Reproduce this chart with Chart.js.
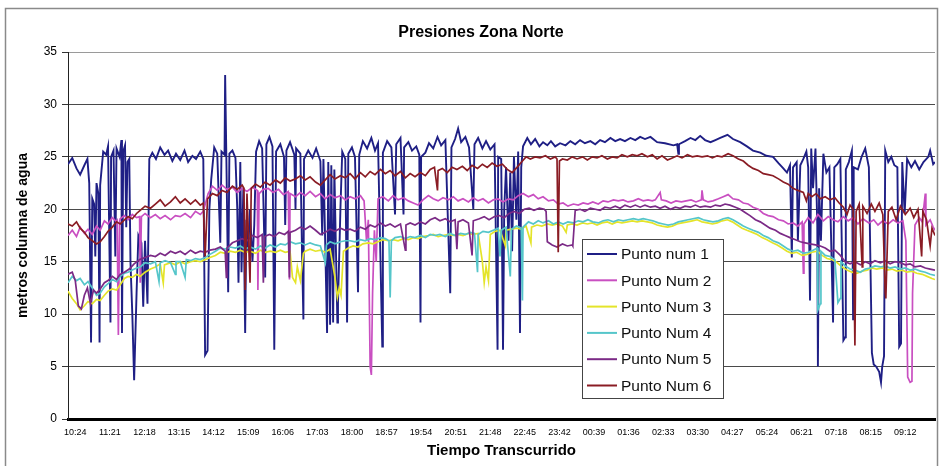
<!DOCTYPE html>
<html>
<head>
<meta charset="utf-8">
<title>Presiones Zona Norte</title>
<script src="https://cdn.jsdelivr.net/npm/chart.js@4.4.1/dist/chart.umd.min.js"></script>
<style>
  html, body { margin: 0; padding: 0; background: #fff; }
  #wrap { width: 943px; height: 466px; }
</style>
</head>
<body>
<div id="wrap"><canvas id="presChart" width="943" height="466"></canvas></div>
<script>
// minutes since 10:24, metros columna de agua
const tickLabels = ['10:24','11:21','12:18','13:15','14:12','15:09','16:06','17:03','18:00','18:57','19:54','20:51','21:48','22:45','23:42','00:39','01:36','02:33','03:30','04:27','05:24','06:21','07:18','08:15','09:12'];
const seriesNames = ['Punto num 1', 'Punto Num 2', 'Punto Num 3', 'Punto Num 4', 'Punto Num 5', 'Punto Num 6'];

const punto1 = [[-12,24.3],[-5,24.9],[2,23.9],[8,23.3],[15,24.2],[20,24.8],[23,22.5],[26,7.3],[28,21],[31,20.5],[33,15.5],[35,22.5],[38,21.5],[40,7.3],[41,22.3],[46,25.5],[51,25.2],[54,26],[58,9.2],[59,25],[63,25.6],[66,15.5],[68,25.8],[73,25],[76,26.6],[77,8.2],[79,25.5],[82,26.1],[84,18.3],[86,24.5],[89,24.8],[91,14.9],[94,10],[97,3.7],[101,12],[104,17.5],[109,16.8],[112,10.7],[115,17],[119,11],[122,24.8],[127,25.4],[133,24.8],[140,25.9],[147,25.2],[153,25.6],[160,24.6],[166,25.3],[173,24.7],[180,25.6],[186,24.5],[193,25.1],[199,24.8],[206,25.5],[211,24.8],[214,6.1],[218,6.5],[221,20],[224,22.8],[229,25.9],[234,25.3],[239,16.8],[241,25.5],[246,25.2],[247,32.8],[249,25],[252,12.1],[254,25.3],[259,25.6],[264,24.9],[267,20],[269,13],[272,24.5],[274,14],[277,22],[280,8.2],[282,19],[285,16],[288,20],[292,15],[295,18.5],[298,25.5],[303,26.5],[308,25.8],[313,13.5],[315,26.2],[320,26.9],[325,26],[328,6.6],[331,25.5],[338,26.2],[344,25],[346,18.5],[348,25.6],[354,26.4],[361,25.2],[363,20],[364,25.8],[371,25.3],[374,15],[376,9.5],[377,24.8],[384,25.6],[391,24.9],[397,25.8],[404,24.6],[407,17.5],[409,24.8],[415,8.2],[417,24.5],[420,9],[422,24.2],[425,9.2],[427,23.8],[432,9.2],[433,11],[437,20],[440,25.5],[445,24.8],[448,9.2],[450,25.3],[456,25.9],[461,25],[466,12.1],[468,25.2],[474,26.5],[481,25.8],[488,26.8],[494,25.6],[499,26.3],[506,6.9],[507,25.4],[514,26.5],[521,25.9],[527,19.5],[529,26.2],[536,26.8],[541,19.5],[542,25.9],[549,26.4],[555,25.6],[562,26],[567,25.2],[569,9.2],[570,25],[577,25.4],[583,26.3],[590,25.8],[597,26.9],[603,26.1],[610,26.6],[618,12],[620,25.9],[626,26.7],[631,27.7],[636,26.4],[643,26.9],[649,25.9],[656,20],[658,26.2],[664,26.8],[671,25.8],[677,26.5],[684,25.7],[691,26.2],[696,6.6],[697,25],[702,24.8],[705,6.6],[707,20],[710,24],[714,17],[717,23.5],[720,16],[723,25],[727,19],[730,25.5],[733,8.2],[735,24],[738,26],[745,26.8],[751,26.2],[758,26.7],[765,26],[771,26.4],[778,26.1],[784,26.5],[791,26],[799,26.3],[808,26.1],[816,26.5],[824,26.2],[832,26.6],[840,26.3],[849,26.5],[857,26.2],[865,26.6],[873,26.4],[882,26.8],[890,26.5],[898,26.7],[906,26.5],[915,26.8],[923,26.6],[931,26.9],[939,26.7],[948,26.9],[959,26.4],[972,26.3],[986,26.1],[992,26.2],[994,25.3],[995,26.2],[1005,26.5],[1014,26.8],[1022,26.6],[1030,27],[1038,26.6],[1047,26.4],[1055,26.6],[1063,26.8],[1075,27.1],[1084,26.7],[1096,26.4],[1107,26],[1117,25.6],[1129,25.4],[1139,25.1],[1150,25],[1159,24.4],[1167,23.9],[1173,23.5],[1178,24.2],[1181,15.4],[1183,24],[1189,24.5],[1191,17],[1195,24.2],[1200,24.8],[1205,25.5],[1208,24],[1211,11.3],[1213,25.8],[1216,22],[1220,25.8],[1223,18.5],[1224,5],[1226,22],[1229,17],[1233,25.3],[1238,23.5],[1243,24],[1249,9.2],[1251,24],[1256,24.3],[1261,24.8],[1266,7.5],[1269,7.8],[1270,23.8],[1275,24.5],[1280,25.6],[1282,9.5],[1283,24],[1290,23.8],[1296,25],[1302,25.8],[1308,24],[1313,6.3],[1316,5.2],[1320,5],[1325,4.5],[1328,3.5],[1330,5],[1333,6],[1335,25.6],[1340,24.5],[1345,25],[1350,24.2],[1355,24],[1358,6.9],[1361,7.2],[1363,24.5],[1367,19.6],[1371,24.8],[1378,24],[1384,24.6],[1391,23.8],[1398,24.5],[1406,25],[1409,25.6],[1414,24.3],[1417,24.5]];

const punto2 = [[-12,17.5],[-5,18],[2,17.4],[8,18.3],[15,17.7],[21,18.1],[28,17.6],[35,18.4],[41,18],[48,18.9],[54,18.6],[61,19.2],[68,18.8],[69,18.9],[71,8],[73,18.8],[74,19.1],[81,19.4],[87,19],[94,19.5],[101,19.2],[106,19.3],[107,13],[109,19.3],[115,19.6],[124,19.2],[132,19.5],[140,19.1],[148,19.4],[157,19],[165,19.4],[173,19.3],[181,19.6],[190,19.2],[198,19.8],[206,19.5],[211,19.8],[219,21.5],[226,22.2],[234,21.8],[242,22.3],[250,21.9],[259,22.1],[267,21.6],[275,22],[283,21.7],[292,22.1],[300,21.8],[301,12.3],[303,21.5],[310,21.9],[318,22],[326,21.6],[335,21.9],[343,21.4],[351,21.7],[353,13.3],[354,21.5],[363,21.2],[371,21.6],[379,21.3],[387,21.7],[396,21.2],[404,21.5],[412,21],[420,21.4],[428,21.1],[437,21.3],[445,20.9],[453,21.2],[461,21],[470,21.3],[476,20.8],[480,17],[483,19],[486,5],[488,4.2],[490,12],[493,18],[496,15],[499,21],[507,21.2],[516,20.8],[524,21.3],[532,20.9],[541,21.1],[549,20.8],[557,20.6],[565,20.4],[573,20.9],[582,21.3],[590,21],[598,20.8],[606,21.1],[615,20.9],[623,21.2],[631,20.8],[639,21],[648,20.7],[656,21.1],[664,20.8],[672,21],[681,20.6],[689,20.9],[697,21],[705,20.7],[714,21],[722,20.9],[730,21.3],[738,21.5],[747,21.2],[755,21.4],[763,21],[771,21.2],[780,20.8],[788,20.9],[796,20.5],[804,20.6],[812,20.3],[821,20.5],[829,20.4],[837,20.6],[845,20.5],[853,20.7],[862,20.5],[870,20.8],[878,20.7],[887,20.9],[895,20.8],[903,20.9],[911,20.7],[920,20.8],[928,21],[936,20.8],[944,20.9],[951,20.8],[956,20.9],[964,21.6],[966,20.9],[974,20.8],[982,20.6],[990,20.8],[999,20.7],[1007,20.8],[1015,20.9],[1023,20.7],[1032,20.9],[1033,21.8],[1035,20.9],[1043,20.7],[1051,20.8],[1060,21],[1068,21.2],[1076,21.4],[1084,21],[1093,20.9],[1101,20.6],[1109,20.5],[1117,20.2],[1126,20],[1134,19.6],[1142,19.4],[1150,19.3],[1159,19],[1167,18.9],[1175,18.6],[1183,18.7],[1191,18.4],[1198,18.8],[1200,13.9],[1201,18.6],[1208,19.2],[1216,18.7],[1224,19.5],[1233,18.9],[1241,19.3],[1249,19],[1257,18.8],[1266,19.3],[1274,18.9],[1282,19.2],[1290,18.6],[1298,19.1],[1308,18.7],[1316,19],[1323,18.5],[1331,18.9],[1340,18.6],[1348,19],[1356,18.7],[1364,18.9],[1369,17],[1372,4],[1376,3.5],[1379,3.6],[1380,12],[1384,18.5],[1391,19.2],[1396,18.8],[1401,21.5],[1402,18.5],[1409,19],[1414,18.3],[1417,18]];

const punto3 = [[-12,12.2],[-5,11.5],[2,11],[8,10.4],[15,10.8],[21,11.2],[28,11],[35,11.4],[41,11.3],[48,11.8],[54,12.2],[61,12.4],[68,12.3],[74,12.8],[81,13.4],[87,13.6],[94,13.5],[101,13.8],[107,13.6],[115,14],[124,14.3],[132,14.5],[140,14.8],[145,13],[147,14.7],[157,14.9],[165,14.7],[173,15],[181,14.8],[190,15],[198,15.1],[206,15],[214,15.2],[222,15.4],[231,15.6],[239,15.9],[247,15.8],[255,16],[264,15.9],[272,16.1],[280,15.9],[288,16],[297,15.8],[305,16.1],[313,15.9],[321,16],[330,15.9],[338,16.1],[346,15.9],[354,16],[358,13.5],[363,13],[366,14.5],[371,13.2],[376,15.8],[379,16],[387,16.2],[396,16],[404,16.1],[412,15.9],[420,16.2],[428,13.5],[432,11.6],[435,12.5],[438,11.8],[442,16],[450,16.3],[458,16.5],[466,16.4],[474,16.7],[483,16.8],[491,16.7],[499,16.9],[507,17.1],[516,17],[524,17.1],[532,17],[541,17.2],[549,17.1],[557,17.3],[565,17.2],[573,17.4],[582,17.5],[590,17.6],[598,17.4],[606,17.5],[615,17.6],[623,17.5],[631,17.6],[639,17.5],[648,17.7],[656,17.6],[664,17.7],[671,15],[674,13],[677,14.5],[681,13.2],[684,17.6],[692,17.9],[700,18],[709,16.5],[710,18],[719,18.1],[727,18.2],[735,18.1],[743,18.4],[751,16.8],[752,18.3],[761,18.5],[769,18.4],[778,18.6],[786,18.5],[794,18.6],[803,18.4],[809,17.8],[811,18.5],[819,18.6],[827,18.5],[836,18.7],[844,18.6],[852,18.7],[860,18.5],[868,18.7],[877,18.8],[885,18.6],[893,18.8],[901,18.7],[910,18.8],[918,18.9],[926,18.8],[934,18.9],[943,18.8],[951,18.7],[959,18.5],[967,18.4],[976,18.3],[984,18.4],[992,18.6],[1000,18.7],[1009,18.8],[1017,18.9],[1025,19],[1033,18.8],[1042,18.7],[1050,18.6],[1058,18.7],[1066,18.9],[1075,19],[1083,18.8],[1091,18.5],[1099,18.2],[1107,18],[1116,17.8],[1124,17.6],[1132,17.3],[1140,17.1],[1149,16.8],[1157,16.6],[1165,16.3],[1173,16],[1181,15.8],[1189,15.9],[1198,15.6],[1206,15.7],[1214,15.9],[1223,16],[1231,15.6],[1239,15.3],[1247,15.2],[1256,14.9],[1264,14.5],[1272,14.2],[1280,14],[1288,13.9],[1297,14.1],[1305,14.2],[1313,14.4],[1321,14.3],[1330,14.4],[1338,14.2],[1346,14.3],[1354,14.1],[1363,14.2],[1371,14],[1379,14.1],[1387,13.9],[1396,13.8],[1404,13.6],[1412,13.4],[1417,13.3]];

const punto4 = [[-12,13],[-5,13.6],[2,13.2],[8,13.4],[15,12.8],[21,13.1],[28,12.5],[35,11.8],[41,12],[48,12.6],[54,12.9],[61,13.3],[68,13.1],[74,13.6],[81,13.9],[87,14],[94,14.2],[101,14.4],[107,14.5],[115,14.9],[124,14.8],[132,15],[138,13.1],[140,14.9],[148,15.1],[157,14.9],[165,13.8],[166,15],[173,15],[181,13.5],[183,15.2],[190,15.1],[198,15.3],[206,15.2],[214,15.4],[222,15.7],[231,16],[239,16.3],[247,16.2],[255,16.4],[264,16.3],[272,16.5],[280,16.2],[288,16.4],[297,16.2],[305,16.5],[313,16.3],[321,16.6],[330,16.4],[338,16.7],[346,16.6],[354,16.9],[363,16.7],[371,16.8],[379,16.6],[387,16.8],[396,16.6],[404,16.5],[412,14.9],[414,16.6],[420,16.9],[428,16.7],[437,16.9],[445,17],[453,17],[461,16.9],[470,17.1],[478,17],[486,17.2],[494,17.1],[503,17.3],[511,17.2],[517,17],[519,11.6],[521,17],[527,17.3],[536,17.4],[544,17.2],[552,17.4],[560,17.3],[569,17.5],[577,17.3],[585,17.6],[593,17.5],[601,17.6],[610,17.4],[618,17.7],[626,17.5],[635,17.7],[643,17.6],[651,17.8],[658,17.7],[663,14],[664,17.6],[672,17.9],[681,17.8],[689,18],[697,18.2],[700,15.5],[702,18],[710,18.3],[717,13.6],[719,18.1],[727,18.4],[735,18.2],[737,11.3],[738,18.3],[747,18.8],[755,18.6],[763,18.9],[771,18.7],[780,18.9],[788,18.6],[796,18.8],[804,18.6],[812,18.8],[821,18.7],[829,18.9],[837,18.8],[845,19],[853,18.8],[862,18.7],[870,18.9],[878,19],[887,18.8],[895,19],[903,18.9],[911,19],[920,19.1],[928,19],[936,19.1],[944,19],[952,18.9],[961,18.7],[969,18.6],[977,18.5],[986,18.6],[994,18.8],[1002,18.9],[1010,19],[1018,19.1],[1027,19.2],[1035,19],[1043,18.9],[1051,18.8],[1060,18.9],[1068,19.1],[1076,19.2],[1084,19],[1093,18.7],[1101,18.4],[1109,18.2],[1117,18],[1126,17.8],[1134,17.5],[1142,17.3],[1150,17],[1159,16.8],[1167,16.5],[1175,16.2],[1183,16],[1191,16.1],[1200,15.8],[1208,15.9],[1216,16.1],[1223,16.3],[1224,10.4],[1228,11],[1229,16],[1236,15.6],[1244,15.5],[1252,15.2],[1257,11.1],[1261,11.5],[1262,15],[1269,14.6],[1277,14.3],[1285,14.2],[1294,14],[1302,14.3],[1310,14.4],[1318,14.6],[1327,14.5],[1335,14.6],[1343,14.4],[1351,14.5],[1360,14.3],[1368,14.4],[1376,14.2],[1384,14.3],[1393,14.1],[1401,14],[1409,13.8],[1417,13.7]];

const punto5 = [[-12,13.8],[-5,14],[0,13.2],[5,10.8],[10,10.5],[15,11.8],[20,12.5],[25,11],[30,12.3],[35,12],[41,12.4],[48,13],[54,13.2],[61,13.6],[68,13.3],[74,13.8],[81,14],[89,14.3],[97,14.8],[106,15.2],[115,15.4],[124,15.6],[132,15.5],[140,15.8],[148,15.6],[157,16],[165,15.8],[173,16],[181,15.7],[190,16.1],[198,15.8],[206,16],[214,15.9],[222,16.1],[231,16.2],[239,16.4],[247,16],[249,13.5],[250,16.3],[259,16.8],[267,17],[275,17.2],[283,17],[292,17.5],[300,17.3],[308,17.6],[310,13],[312,17.4],[320,17.6],[328,17.4],[336,17.8],[345,17.6],[351,17.9],[353,13.5],[354,17.8],[363,18],[371,18.3],[379,18.1],[387,18.4],[396,18],[404,17.6],[412,17.8],[420,18.1],[428,17.9],[437,18.2],[445,18],[453,18.1],[461,17.9],[470,18.3],[478,18.1],[486,18.5],[494,18.3],[503,18.7],[511,18.4],[519,18.6],[527,18.3],[536,18.6],[544,16.1],[545,18.5],[552,18.7],[560,18.5],[569,18.8],[577,18.6],[585,19],[593,19.2],[601,18.9],[610,19.1],[618,18.8],[626,19],[629,16.2],[631,18.8],[639,19],[648,18.7],[654,15.6],[656,18.9],[666,19.1],[674,19.3],[682,19],[691,19.3],[699,19.4],[707,19.2],[715,19.6],[723,19.8],[732,19.6],[740,20],[748,20.1],[756,19.9],[765,20.1],[773,20],[776,19.8],[778,16.9],[786,16.6],[794,16.4],[803,16.7],[811,16.5],[819,16.6],[820,16.5],[824,19.9],[832,20],[840,19.8],[849,20.1],[857,20],[865,19.9],[873,20.2],[882,20.1],[890,20.3],[898,20.1],[906,20.4],[915,20.2],[923,20.4],[931,20.2],[939,20.4],[948,20.2],[956,20.3],[964,20.1],[972,20.3],[981,20],[989,20.2],[997,20.1],[1005,20.3],[1014,20.2],[1022,20.4],[1030,20.2],[1038,20.3],[1047,20.2],[1055,20.4],[1063,20.3],[1071,20.5],[1079,20.4],[1088,20.2],[1096,20],[1104,19.7],[1112,19.4],[1121,19],[1129,18.8],[1137,18.5],[1145,18.2],[1154,18],[1162,17.7],[1170,17.5],[1178,17.3],[1187,17.1],[1195,16.9],[1203,16.8],[1211,16.7],[1220,16.6],[1228,16.5],[1236,16.3],[1244,16],[1252,16.1],[1261,15.6],[1269,15],[1277,14.8],[1285,15],[1294,14.7],[1302,15],[1310,14.8],[1318,15.1],[1327,14.9],[1335,15.1],[1343,14.8],[1351,15],[1360,14.9],[1368,14.7],[1376,14.8],[1384,14.5],[1393,14.6],[1401,14.4],[1409,14.3],[1417,14.2]];

const punto6 = [[-12,18.6],[-5,18.4],[2,18.8],[8,18.2],[15,17.8],[21,17.3],[28,17],[35,16.7],[41,16.9],[48,17.4],[54,17.9],[61,18.3],[68,18.8],[74,18.6],[81,19],[87,19.3],[94,19.1],[101,19.6],[107,19.9],[115,20.3],[124,20.1],[132,20.5],[140,20.9],[148,20.3],[157,20.7],[165,21.2],[173,20.6],[181,21],[190,20.5],[198,20.9],[206,20.4],[211,20.6],[214,15.5],[218,21],[226,21.5],[234,21.3],[242,21.8],[250,21.6],[259,22.2],[267,21.9],[275,22.3],[278,22],[280,12.3],[283,21.5],[288,13],[290,22],[297,22.4],[305,22.1],[313,22.6],[321,22.3],[330,22.8],[338,22.5],[346,23],[354,22.7],[363,22.9],[371,23.2],[379,22.8],[387,23.1],[396,22.6],[404,22.3],[412,22.8],[420,23.3],[428,22.9],[437,23.2],[445,23],[453,23.4],[461,22.9],[470,23.5],[478,23.1],[486,23.6],[494,23.3],[503,23.8],[511,23.4],[519,23.7],[527,23.2],[536,23.6],[544,23],[552,23.4],[560,23.1],[569,23.5],[577,23.2],[585,23.8],[592,24],[597,21.8],[598,23.7],[605,23.9],[613,23.5],[621,24],[629,23.8],[638,24.1],[646,23.7],[654,24.2],[663,23.9],[671,24.3],[679,24],[687,24.4],[695,24.1],[704,24.3],[712,23.8],[720,23.5],[728,24],[737,24.6],[743,25],[750,24.8],[758,25],[766,24.9],[775,25.1],[783,24.8],[791,25],[794,24.8],[796,15.9],[798,24.6],[803,24.8],[811,24.7],[819,25],[827,24.8],[836,25],[844,24.7],[852,25],[860,24.9],[868,25.1],[877,24.8],[885,25],[893,24.9],[901,25.2],[910,25],[918,25.2],[926,25.1],[934,25.3],[943,25],[951,25.2],[959,24.8],[967,25.1],[976,24.7],[984,24.9],[992,25.1],[1000,24.9],[1009,25.2],[1017,25],[1025,25.1],[1033,25],[1042,25.1],[1050,24.9],[1058,25.1],[1066,25],[1076,25.3],[1084,25.1],[1093,24.8],[1101,24.6],[1109,24.2],[1117,23.9],[1126,23.7],[1134,23.4],[1142,23.3],[1150,23.2],[1159,22.9],[1167,22.6],[1175,22.4],[1183,22],[1191,21.8],[1200,21.6],[1205,20.8],[1208,21.5],[1214,21.2],[1221,21.5],[1228,21],[1236,21.2],[1244,20.9],[1252,21.1],[1259,20.6],[1266,20.2],[1272,19.5],[1277,20.4],[1282,20],[1285,7],[1287,19.8],[1292,20.5],[1297,14.5],[1298,20.3],[1305,19.6],[1312,20.5],[1318,19.8],[1325,20.6],[1331,19.5],[1335,12],[1336,11.5],[1340,19.8],[1346,20.2],[1353,19],[1360,20.3],[1368,19.5],[1376,20.1],[1382,19.2],[1389,20],[1395,15.5],[1397,19.8],[1403,19],[1409,16.5],[1412,18.2],[1417,17.5]];

const seriesData = [punto1, punto2, punto3, punto4, punto5, punto6];
const seriesColors = ['#1f1f85', '#c94fc1', '#e4e42a', '#55c6ca', '#7b2a86', '#8a1c24'];

Chart.defaults.font.family = "'Liberation Sans', Arial, sans-serif";
Chart.defaults.color = '#000';

// outer frame and title, like the spreadsheet chart
const chartFrame = {
    id: 'chartFrame',
    beforeDraw(chart) {
        const ctx = chart.ctx;
        ctx.save();
        ctx.fillStyle = '#fff';
        ctx.fillRect(0, 0, chart.width, chart.height);
        ctx.strokeStyle = '#8a8a8a';
        ctx.lineWidth = 1.5;
        ctx.strokeRect(5.5, 8.5, 932, 470);
        ctx.fillStyle = '#000';
        ctx.font = "bold 16px 'Liberation Sans', Arial, sans-serif";
        ctx.textAlign = 'center';
        ctx.textBaseline = 'middle';
        ctx.fillText('Presiones Zona Norte', 481, 33);
        ctx.restore();
    }
};

// legend box sitting inside the plot area
const legendBox = {
    id: 'legendBox',
    afterDatasetsDraw(chart) {
        const ctx = chart.ctx;
        const x = 582, y = 239, w = 141, h = 159;
        ctx.save();
        ctx.fillStyle = '#fff';
        ctx.fillRect(x, y, w, h);
        ctx.strokeStyle = '#444';
        ctx.lineWidth = 1;
        ctx.strokeRect(x + 0.5, y + 0.5, w, h);
        ctx.font = "15.5px 'Liberation Sans', Arial, sans-serif";
        ctx.textBaseline = 'middle';
        ctx.textAlign = 'left';
        chart.data.datasets.forEach((ds, i) => {
            const rowY = y + 15 + i * 26.3;
            ctx.strokeStyle = ds.borderColor;
            ctx.lineWidth = 2;
            ctx.beginPath();
            ctx.moveTo(x + 5, rowY);
            ctx.lineTo(x + 35, rowY);
            ctx.stroke();
            ctx.fillStyle = '#111';
            ctx.fillText(ds.label, x + 39, rowY + 1);
        });
        ctx.restore();
    }
};

const ctx = document.getElementById('presChart').getContext('2d');
const presChart = new Chart(ctx, {
    type: 'line',
    data: {
        datasets: seriesData.map((pts, i) => ({
            label: seriesNames[i],
            data: pts.map(p => ({x: p[0], y: p[1]})),
            borderColor: seriesColors[i],
            backgroundColor: seriesColors[i],
            borderWidth: i === 0 ? 1.9 : 1.7,
            pointRadius: 0,
            tension: 0,
            fill: false,
            order: 5 - i
        }))
    },
    options: {
        responsive: false,
        animation: false,
        events: [],
        layout: { padding: { top: 52, left: 8, right: 8, bottom: 0 } },
        plugins: {
            legend: { display: false },
            title: { display: false },
            tooltip: { enabled: false }
        },
        scales: {
            x: {
                type: 'linear',
                min: -12,
                max: 1417,
                afterBuildTicks: axis => {
                    axis.ticks = tickLabels.map((l, i) => ({ value: i * 57 }));
                },
                afterFit: scale => { scale.height = 47; },
                grid: { display: false, drawTicks: false },
                border: { display: true, color: '#000', width: 3 },
                ticks: {
                    autoSkip: false,
                    maxRotation: 0,
                    padding: 8,
                    font: { size: 9, family: "'Liberation Sans Narrow', 'Arial Narrow', 'Liberation Sans', sans-serif" },
                    callback: (value, index) => tickLabels[index]
                },
                title: {
                    display: true,
                    text: 'Tiempo Transcurrido',
                    font: { size: 15, weight: 'bold' },
                    padding: { top: 0, bottom: 6 }
                }
            },
            y: {
                min: 0,
                max: 35,
                afterFit: scale => { scale.width = 60; },
                grid: {
                    color: c => c.tick && c.tick.value === 35 ? '#9a9a9a' : '#4a4a4a',
                    lineWidth: 1,
                    tickLength: 6,
                    tickColor: '#333'
                },
                border: { display: true, color: '#222', width: 1 },
                ticks: {
                    stepSize: 5,
                    padding: 5,
                    font: { size: 12 }
                },
                title: {
                    display: true,
                    text: 'metros columna de agua',
                    font: { size: 14, weight: 'bold' },
                    padding: { top: 7, bottom: 2 }
                }
            }
        }
    },
    plugins: [chartFrame, legendBox]
});
</script>
</body>
</html>
